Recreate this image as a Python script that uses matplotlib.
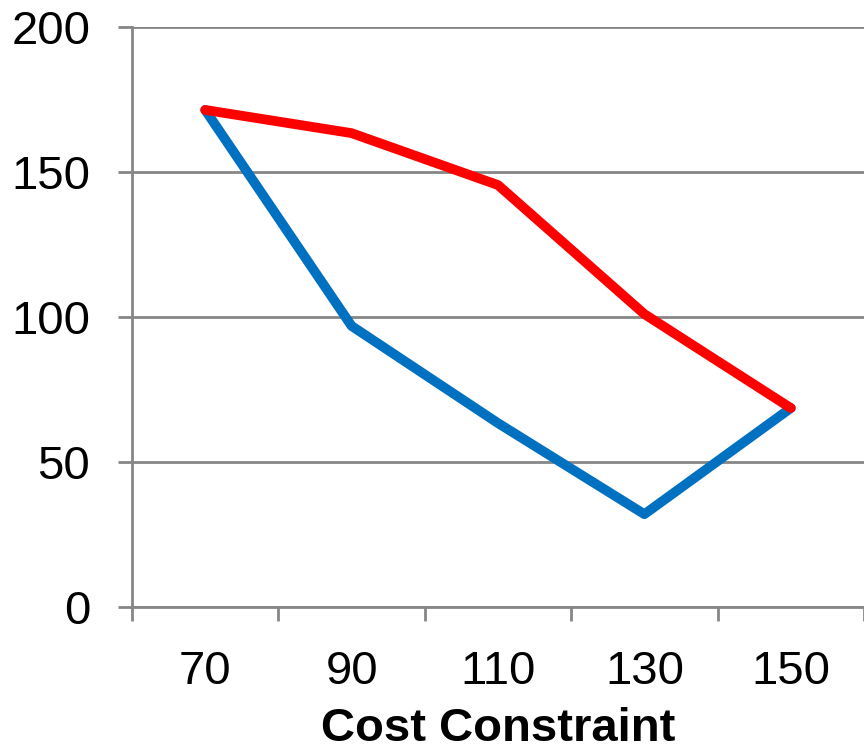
import numpy as np
import matplotlib.pyplot as plt
from matplotlib.ticker import FixedLocator

plt.rcParams['font.family'] = ['Liberation Sans', 'DejaVu Sans']

cost = ['70', '90', '110', '130', '150']
red_vals = [171.4, 163.4, 145.5, 101.0, 68.6]
blue_vals = [171.4, 96.9, 63.4, 32.0, 68.6]

grid_col = '#868686'

fig = plt.figure(figsize=(8.64, 7.54), dpi=100)
ax = fig.add_axes([132 / 864, (754 - 607) / 754, (864 - 132) / 864, 580 / 754])

x = np.arange(len(cost))
ax.plot(x, blue_vals, color='#0070C0', lw=7, solid_capstyle='round',
        solid_joinstyle='round', zorder=3)
ax.plot(x, red_vals, color='#FF0000', lw=7, solid_capstyle='round',
        solid_joinstyle='round', zorder=4)

ax.set_xlim(-0.5, len(cost) - 0.5)
ax.set_ylim(0, 200)
ax.set_yticks([0, 50, 100, 150, 200])
ax.yaxis.grid(True, color=grid_col, lw=2)
ax.set_axisbelow(True)

# category labels centred, tick marks on the boundaries
ax.set_xticks(x)
ax.set_xticklabels(cost)
ax.xaxis.set_minor_locator(FixedLocator(np.arange(-0.5, len(cost), 1.0)))
ax.tick_params(axis='x', which='major', length=0, pad=31, labelsize=34)
ax.tick_params(axis='x', which='minor', length=10, width=2, color=grid_col)
ax.tick_params(axis='y', length=10, width=2, color=grid_col, pad=20,
               labelsize=34)

for s in ['top', 'right']:
    ax.spines[s].set_visible(False)
for s in ['left', 'bottom']:
    ax.spines[s].set_color(grid_col)
    ax.spines[s].set_linewidth(2)

ax.set_xlabel('Cost Constraint', fontsize=34, fontweight='bold', labelpad=9)

fig.savefig('out.png', dpi=100)
